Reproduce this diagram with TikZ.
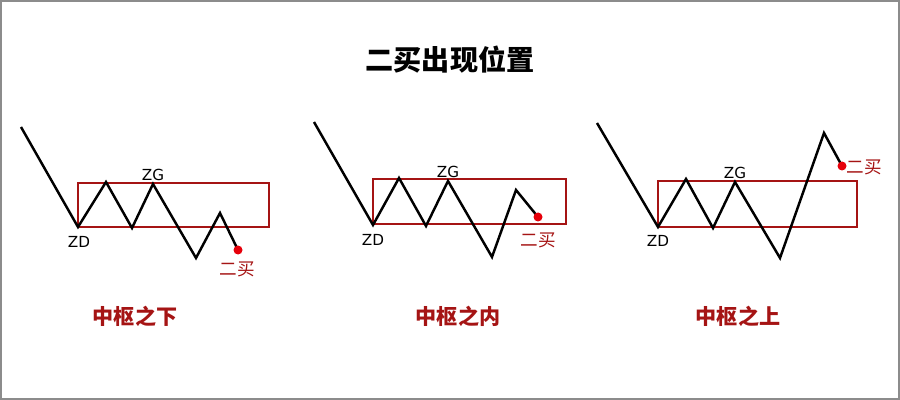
\documentclass[tikz,border=0pt]{standalone}
\usepackage{fontspec}
\setmainfont{DejaVu Sans}
\newfontfamily\cjk{Noto Sans CJK SC}
\usetikzlibrary{calc}
\definecolor{zsred}{RGB}{165,20,20}
\definecolor{dotred}{RGB}{230,0,10}
\definecolor{framegray}{RGB}{140,140,140}

\tikzset{
  wave/.style={line width=2.1pt, black, line join=miter},
  zhongshu/.style={draw=zsred, line width=1.7pt},
  maidot/.style={fill=dotred},
  ptlabel/.style={font=\fontsize{13}{13}\selectfont, inner sep=0pt},
  mailabel/.style={font=\cjk\fontsize{15}{15}\selectfont, text=zsred, inner sep=0pt},
  caption/.style={font=\cjk\bfseries\fontsize{18}{18}\selectfont, text=zsred, inner sep=0pt}
}

\begin{document}
\begin{tikzpicture}[x=0.03cm, y=-0.03cm]
    \useasboundingbox (0,0) rectangle (900,400);
    \draw[framegray, line width=1.3pt] (0.8,0.8) rectangle (899.2,399.2);
    \node[font=\cjk\bfseries\fontsize{24}{24}\selectfont, inner sep=0pt] (title) at (450,60) {二买出现位置};

    % below the pivot
    \coordinate (a0) at (21,127);  \coordinate (a1) at (78,227);
    \coordinate (a2) at (106,182); \coordinate (a3) at (132,228);
    \coordinate (a4) at (153,184); \coordinate (a5) at (196,258);
    \coordinate (a6) at (220,213); \coordinate (a7) at (238,250);
    \draw[zhongshu] (78,183) rectangle (269,227);
    \draw[wave] (a0) -- (a1) -- (a2) -- (a3) -- (a4) -- (a5) -- (a6) -- (a7);
    \fill[maidot] (a7) circle (4.5);
    \node[ptlabel] (zga) at (153,175) {ZG};
    \node[ptlabel] (zda) at (79,242) {ZD};
    \node[mailabel] (maia) at (237,269) {二买};
    \node[caption] (capa) at (135,316) {中枢之下};

    % inside the pivot
    \coordinate (b0) at (314,122); \coordinate (b1) at (373,225);
    \coordinate (b2) at (399,178); \coordinate (b3) at (426,226);
    \coordinate (b4) at (448,181); \coordinate (b5) at (492,257);
    \coordinate (b6) at (516,190); \coordinate (b7) at (538,217);
    \draw[zhongshu] (373,179) rectangle (566,224);
    \draw[wave] (b0) -- (b1) -- (b2) -- (b3) -- (b4) -- (b5) -- (b6) -- (b7);
    \fill[maidot] (b7) circle (4.5);
    \node[ptlabel] (zgb) at (448,172) {ZG};
    \node[ptlabel] (zdb) at (373,240) {ZD};
    \node[mailabel] (maib) at (538,240) {二买};
    \node[caption] (capb) at (458,316) {中枢之内};

    % above the pivot
    \coordinate (c0) at (597,123); \coordinate (c1) at (658,227);
    \coordinate (c2) at (686,179); \coordinate (c3) at (713,228);
    \coordinate (c4) at (735,182); \coordinate (c5) at (780,258);
    \coordinate (c6) at (824,133); \coordinate (c7) at (842,166);
    \draw[zhongshu] (658,181) rectangle (857,227);
    \draw[wave] (c0) -- (c1) -- (c2) -- (c3) -- (c4) -- (c5) -- (c6) -- (c7);
    \fill[maidot] (c7) circle (4.5);
    \node[ptlabel] (zgc) at (735,173) {ZG};
    \node[ptlabel] (zdc) at (658,241) {ZD};
    \node[mailabel] (maic) at (864,167) {二买};
    \node[caption] (capc) at (738,316) {中枢之上};
\end{tikzpicture}
\end{document}
